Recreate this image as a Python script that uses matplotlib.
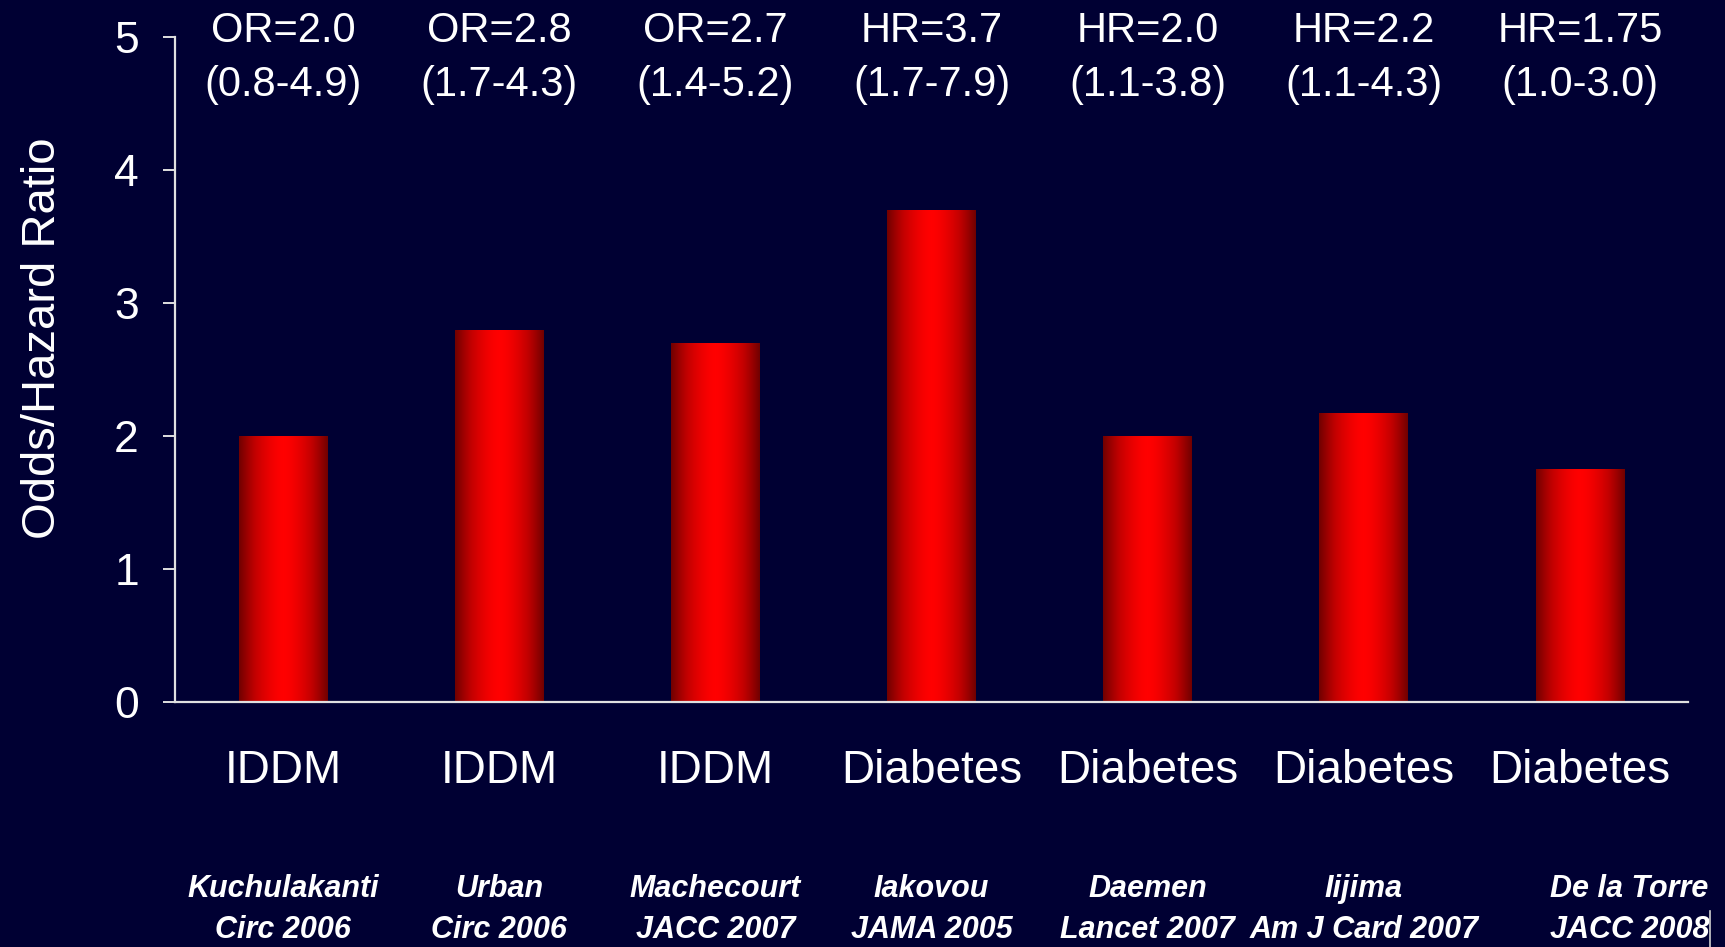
import numpy as np
import matplotlib
matplotlib.use('Agg')
import matplotlib.pyplot as plt
from matplotlib.colors import LinearSegmentedColormap

# study data
categories = ['IDDM', 'IDDM', 'IDDM', 'Diabetes', 'Diabetes', 'Diabetes', 'Diabetes']
ratios = [2.0, 2.8, 2.7, 3.7, 2.0, 2.17, 1.75]
measures = ['OR', 'OR', 'OR', 'HR', 'HR', 'HR', 'HR']
ratio_labels = ['2.0', '2.8', '2.7', '3.7', '2.0', '2.2', '1.75']
intervals = ['(0.8-4.9)', '(1.7-4.3)', '(1.4-5.2)', '(1.7-7.9)', '(1.1-3.8)', '(1.1-4.3)', '(1.0-3.0)']
authors = ['Kuchulakanti', 'Urban', 'Machecourt', 'Iakovou', 'Daemen', 'Iijima', 'De la Torre']
journals = ['Circ 2006', 'Circ 2006', 'JACC 2007', 'JAMA 2005', 'Lancet 2007', 'Am J Card 2007', 'JACC 2008']

BG = '#000033'
plt.rcParams['font.family'] = ['Liberation Sans', 'DejaVu Sans']

fig = plt.figure(figsize=(17.25, 9.47), dpi=100, facecolor=BG)
ax = fig.add_axes([175 / 1725, 1 - 702 / 947, (1688 - 175) / 1725, (702 - 37) / 947])
ax.set_facecolor(BG)

x = np.arange(len(categories))
bars = ax.bar(x, ratios, width=0.41, color='none', edgecolor='none', zorder=2)

# horizontal red shading: dark edges, bright centre
cmap = LinearSegmentedColormap.from_list('redbar', ['#700000', '#c00000', '#ff0000'])
u = np.linspace(0, 1, 256)
shade = 1 - np.abs(2 * u - 1) ** 1.6
grad = shade[np.newaxis, :]
for rect in bars:
    x0, y0 = rect.get_x(), rect.get_y()
    w, h = rect.get_width(), rect.get_height()
    im = ax.imshow(grad, cmap=cmap, vmin=0, vmax=1, aspect='auto',
                   extent=(x0, x0 + w, y0, y0 + h), zorder=2, interpolation='bilinear')
    im.set_clip_path(rect)

ax.set_xlim(-0.5, 6.5)
ax.set_ylim(0, 5)

for side in ['top', 'right']:
    ax.spines[side].set_visible(False)
for side in ['left', 'bottom']:
    ax.spines[side].set_color('#e0e0e0')
    ax.spines[side].set_linewidth(1.6)
    ax.spines[side].set_zorder(3)

ax.set_yticks(range(6))
ax.tick_params(axis='y', colors='#e0e0e0', labelcolor='white', length=9, width=1.4,
               labelsize=32, pad=17, direction='out')
ax.set_xticks([])
ax.set_ylabel('Odds/Hazard Ratio', color='white', fontsize=34, va='center')
ax.yaxis.set_label_coords(-0.087, 0.547)

# effect estimates above the plot
trans = ax.get_xaxis_transform()
for i in x:
    ax.text(i, (702 - 31) / 665, f'{measures[i]}={ratio_labels[i]}', transform=trans,
            ha='center', va='center', color='white', fontsize=30)
    ax.text(i, (702 - 85) / 665, intervals[i], transform=trans,
            ha='center', va='center', color='white', fontsize=30)

# category and reference labels below the axis
ref_font = dict(color='white', fontsize=22, fontstyle='italic', fontweight='bold',
                family=['Liberation Sans Narrow', 'Liberation Sans'])
for i in x:
    ax.text(i, -(771 - 702) / 665, categories[i], transform=trans,
            ha='center', va='center', color='white', fontsize=33)
    shift = 0.23 if i == len(x) - 1 else 0
    ax.text(i + shift, -(889 - 702) / 665, authors[i], transform=trans,
            ha='center', va='center', **ref_font)
    ax.text(i + shift, -(930 - 702) / 665, journals[i], transform=trans,
            ha='center', va='center', **ref_font)

# small text cursor after the last reference
fig.add_artist(plt.Line2D([1710 / 1725, 1710 / 1725], [0, 1 - 911 / 947], color='#d0d0d0', lw=1.2))

fig.savefig('out.png', dpi=100, facecolor=BG)
